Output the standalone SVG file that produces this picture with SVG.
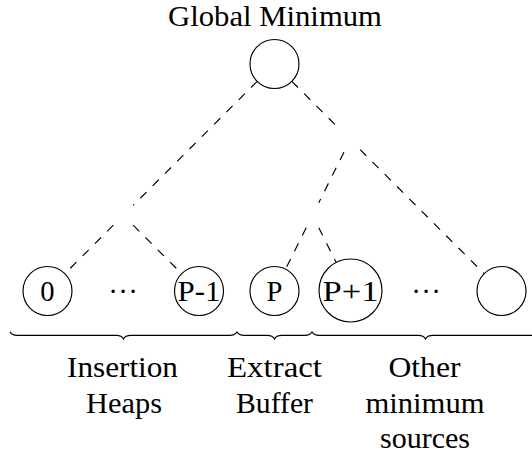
<svg xmlns="http://www.w3.org/2000/svg" width="532" height="455" viewBox="0 0 532 455">
<style>
.n{fill:none;stroke:#000;stroke-width:1.16}
.e{fill:none;stroke:#000;stroke-width:1.16;stroke-dasharray:8.7 8.7}
.b{fill:none;stroke:#000;stroke-width:1.16}
.t{font-family:Liberation Serif,Times New Roman,Tinos,Noto Serif,DejaVu Serif,FreeSerif,serif;font-size:28.6px;fill:#000;text-anchor:middle}
</style>
<rect width="532" height="455" fill="#fff"/>
<g id="edges">
<line class="e" x1="257.18" y1="81.33" x2="133.15" y2="205.4"/>
<line class="e" x1="291.82" y1="81.32" x2="340.3" y2="129.8"/>
<line class="e" x1="360.1" y1="149.6" x2="484.18" y2="273.68"/>
<line class="e" x1="343.95" y1="152.23" x2="318.75" y2="202.77"/>
<line class="e" x1="113.35" y1="225.2" x2="64.83" y2="273.68"/>
<line class="e" x1="133.15" y1="225.2" x2="181.67" y2="273.68"/>
<line class="e" x1="306.22" y1="227.81" x2="285.49" y2="269.1"/>
<line class="e" x1="318.78" y1="227.81" x2="336.37" y2="262.85"/>
</g>
<g id="root">
<text class="t" x="275" y="26" textLength="214" lengthAdjust="spacingAndGlyphs">Global Minimum</text>
<circle class="n" cx="274.5" cy="64" r="24.5"/>
</g>
<g id="node0">
<circle class="n" cx="47.5" cy="291" r="24.5"/>
<text class="t" x="47.5" y="301">0</text>
</g>
<g id="dots1">
<text class="t" x="113 123 133" y="293">...</text>
</g>
<g id="nodeP-1">
<circle class="n" cx="199" cy="291" r="24.5"/>
<text class="t" x="199" y="301" textLength="43" lengthAdjust="spacingAndGlyphs">P-1</text>
</g>
<g id="nodeP">
<circle class="n" cx="274.5" cy="291" r="24.5"/>
<text class="t" x="274.5" y="301">P</text>
</g>
<g id="nodeP+1">
<circle class="n" cx="350.5" cy="290.5" r="31.5"/>
<text class="t" x="350.5" y="300.5" textLength="56" lengthAdjust="spacingAndGlyphs">P+1</text>
</g>
<g id="dots2">
<text class="t" x="416 426 436" y="293">...</text>
</g>
<g id="nodeLast">
<circle class="n" cx="501.5" cy="291" r="24.5"/>
</g>
<g id="braces">
<path class="b" d="M10,331.7 C11.1,333.89 13.65,335.35 17.3,335.35 L116.2,335.35 C119.85,335.35 122.4,336.81 123.5,339 C124.6,336.81 127.15,335.35 130.8,335.35 L229.7,335.35 C233.35,335.35 235.9,333.89 237,331.7"/>
<path class="b" d="M237,331.7 C238.1,333.89 240.65,335.35 244.3,335.35 L267.2,335.35 C270.85,335.35 273.4,336.81 274.5,339 C275.6,336.81 278.15,335.35 281.8,335.35 L304.7,335.35 C308.35,335.35 310.9,333.89 312,331.7"/>
<path class="b" d="M312,331.7 C313.1,333.89 315.65,335.35 319.3,335.35 L418.2,335.35 C421.85,335.35 424.4,336.81 425.5,339 C426.6,336.81 429.15,335.35 432.8,335.35 L531.7,335.35 C535.35,335.35 537.9,333.89 539,331.7"/>
</g>
<g id="label-insertion">
<text class="t" x="122.5" y="377" textLength="111" lengthAdjust="spacingAndGlyphs">Insertion</text>
<text class="t" x="124" y="412.5" textLength="76" lengthAdjust="spacingAndGlyphs">Heaps</text>
</g>
<g id="label-extract">
<text class="t" x="274.5" y="377" textLength="95" lengthAdjust="spacingAndGlyphs">Extract</text>
<text class="t" x="274.5" y="412.5" textLength="77" lengthAdjust="spacingAndGlyphs">Buffer</text>
</g>
<g id="label-other">
<text class="t" x="424.5" y="377" textLength="72" lengthAdjust="spacingAndGlyphs">Other</text>
<text class="t" x="425" y="412.5" textLength="119" lengthAdjust="spacingAndGlyphs">minimum</text>
<text class="t" x="425" y="448" textLength="90" lengthAdjust="spacingAndGlyphs">sources</text>
</g>
</svg>
